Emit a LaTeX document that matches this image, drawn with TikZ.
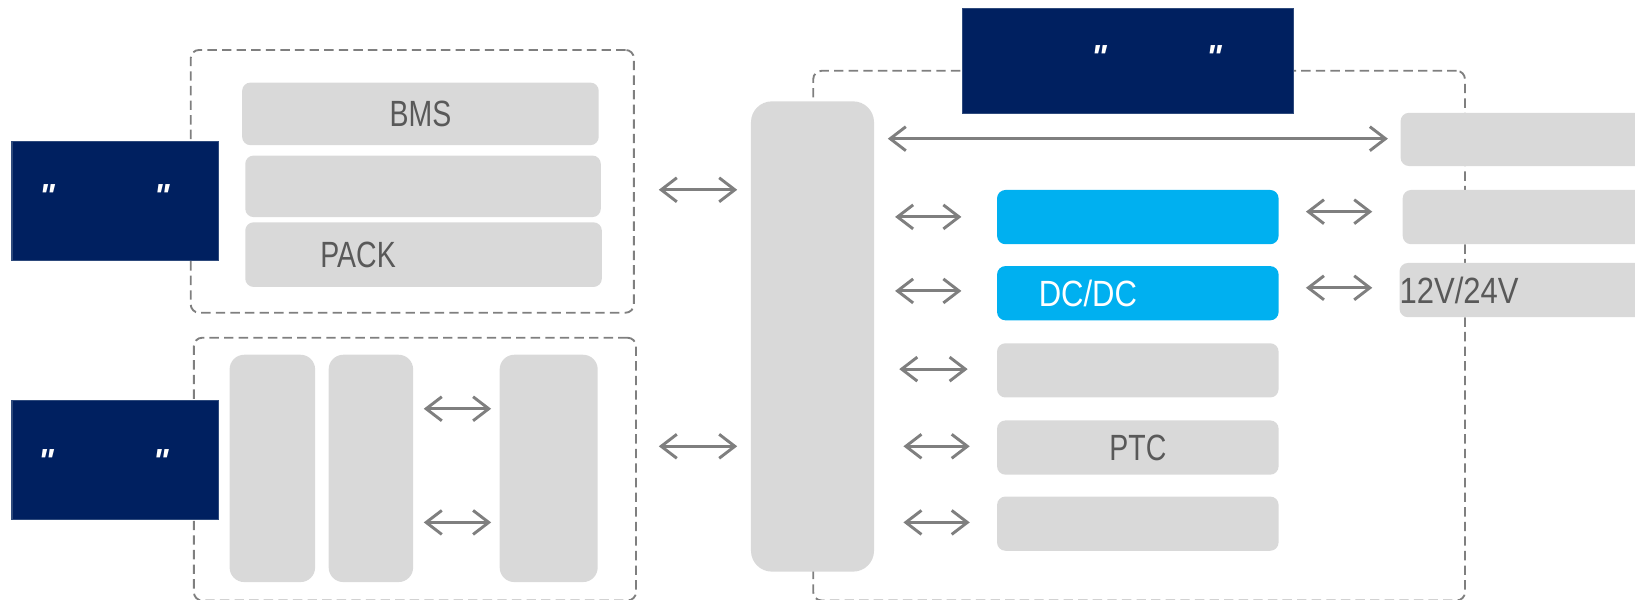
\documentclass[tikz,border=0pt]{standalone}
\usepackage{fontspec}
\setmainfont{Liberation Sans}
\newfontfamily\lblfont[FakeStretch=0.78]{Liberation Sans}
\newfontfamily\widelblfont[FakeStretch=0.85]{Liberation Sans}
\newfontfamily\qfont{Liberation Sans}
\usetikzlibrary{arrows.meta}
\definecolor{navy}{HTML}{002060}
\definecolor{navyedge}{HTML}{2E4A7C}
\definecolor{boxgray}{HTML}{D9D9D9}
\definecolor{skyblue}{HTML}{00B0F0}
\definecolor{linegray}{HTML}{7F7F7F}
\definecolor{txtgray}{HTML}{595959}
\tikzset{
  grp/.style={draw=linegray, line width=1.8pt, dash pattern=on 9pt off 5pt, rounded corners=8pt, inner sep=0pt, anchor=north west},
  gbox/.style={fill=boxgray, rounded corners=8pt, inner sep=0pt, anchor=north west,
     font=\lblfont\fontsize{35}{42}\selectfont, text=txtgray, text height=25pt, text depth=0pt},
  widetext/.style={font=\widelblfont\fontsize{35}{42}\selectfont},
  bbox/.style={gbox, fill=skyblue, text=white},
  tallbox/.style={gbox, rounded corners=14pt},
  navybox/.style={fill=navy, draw=navyedge, line width=1pt, inner sep=0pt, anchor=north west, align=left,
     font=\qfont\bfseries\itshape\fontsize{32}{38}\selectfont, text=white},
  biarrow/.style={draw=linegray, line width=2.8pt, {Straight Barb[length=15pt,width=23pt]}-{Straight Barb[length=15pt,width=23pt]}},
}
\begin{document}
\begin{tikzpicture}[x=1pt,y=-1pt]
\useasboundingbox (0,0) rectangle (1568,575.4);
% dashed groups
\node[grp, minimum width=425pt, minimum height=252pt] (grpA) at (182,47) {};
\node[grp, minimum width=424pt, minimum height=252pt] (grpB) at (185,323) {};
\node[grp, minimum width=625pt, minimum height=508pt] (grpC) at (779,67) {};
% navy title boxes
\node[navybox, minimum width=198pt, minimum height=114pt, text width=198pt, text height=20pt, text depth=7pt] (titleA) at (11,135) {\hspace*{26pt}"\hspace{95pt}"};
\node[navybox, minimum width=198pt, minimum height=114pt, text width=198pt, text height=26pt, text depth=2pt] (titleB) at (11,384) {\hspace*{25pt}"\hspace{95pt}"};
\node[navybox, minimum width=317pt, minimum height=100pt, text width=317pt, text height=20pt, text depth=6pt] (titleC) at (923,8) {\hspace*{123pt}"\hspace{95pt}"};
% battery group
\node[gbox, minimum width=342pt, minimum height=60pt] (bms) at (232,79) {BMS};
\node[gbox, minimum width=341pt, minimum height=59pt] (cell) at (235,149) {};
\node[gbox, minimum width=342pt, minimum height=62pt, text width=342pt, align=left] (pack) at (235,213) {\hspace*{72pt}PACK};
% motor group
\node[tallbox, minimum width=82pt, minimum height=218pt] (tallA) at (220,340) {};
\node[tallbox, minimum width=81pt, minimum height=218pt] (tallB) at (315,340) {};
\node[tallbox, minimum width=94pt, minimum height=218pt] (tallC) at (479,340) {};
% central controller
\node[gbox, rounded corners=20pt, minimum width=118pt, minimum height=451pt] (ctrl) at (720,97) {};
% right column
\node[bbox, minimum width=270pt, minimum height=52pt] (blueA) at (956,182) {};
\node[bbox, widetext, minimum width=270pt, minimum height=52pt, text width=270pt, align=left] (dcdc) at (956,255) {\hspace*{40pt}DC/DC};
\node[gbox, minimum width=270pt, minimum height=52pt] (grayC) at (956,329) {};
\node[gbox, minimum width=270pt, minimum height=52pt] (ptc) at (956,403) {PTC};
\node[gbox, minimum width=270pt, minimum height=52pt] (grayE) at (956,476) {};
% far right
\node[gbox, minimum width=300pt, minimum height=51pt] (farA) at (1343,108) {};
\node[gbox, minimum width=300pt, minimum height=52pt] (farB) at (1345,182) {};
\node[gbox, widetext, minimum width=300pt, minimum height=52pt, text width=300pt, align=left] (farC) at (1342,252) {12V/24V};
% arrows
\draw[biarrow, shorten <=23pt, shorten >=13pt] (grpA.east |- 0,182) -- (ctrl.west |- 0,182);
\draw[biarrow, shorten <=21pt, shorten >=13pt] (grpB.east |- 0,428) -- (ctrl.west |- 0,428);
\draw[biarrow, shorten <=10pt, shorten >=8pt] (tallB.east |- 0,392) -- (tallC.west |- 0,392);
\draw[biarrow, shorten <=10pt, shorten >=8pt] (tallB.east |- 0,501) -- (tallC.west |- 0,501);
\draw[biarrow, shorten <=13pt, shorten >=12pt] (ctrl.east |- 0,133) -- (farA.west |- 0,133);
\draw[biarrow, shorten <=20pt, shorten >=34pt] (ctrl.east |- 0,208) -- (blueA.west |- 0,208);
\draw[biarrow, shorten <=20pt, shorten >=34pt] (ctrl.east |- 0,279) -- (dcdc.west |- 0,279);
\draw[biarrow, shorten <=24pt, shorten >=28pt] (ctrl.east |- 0,354) -- (grayC.west |- 0,354);
\draw[biarrow, shorten <=28pt, shorten >=26pt] (ctrl.east |- 0,428) -- (ptc.west |- 0,428);
\draw[biarrow, shorten <=28pt, shorten >=26pt] (ctrl.east |- 0,501) -- (grayE.west |- 0,501);
\draw[biarrow, shorten <=26pt, shorten >=29pt] (blueA.east |- 0,203) -- (farB.west |- 0,203);
\draw[biarrow, shorten <=26pt, shorten >=26pt] (dcdc.east |- 0,276) -- (farC.west |- 0,276);
\end{tikzpicture}
\end{document}
